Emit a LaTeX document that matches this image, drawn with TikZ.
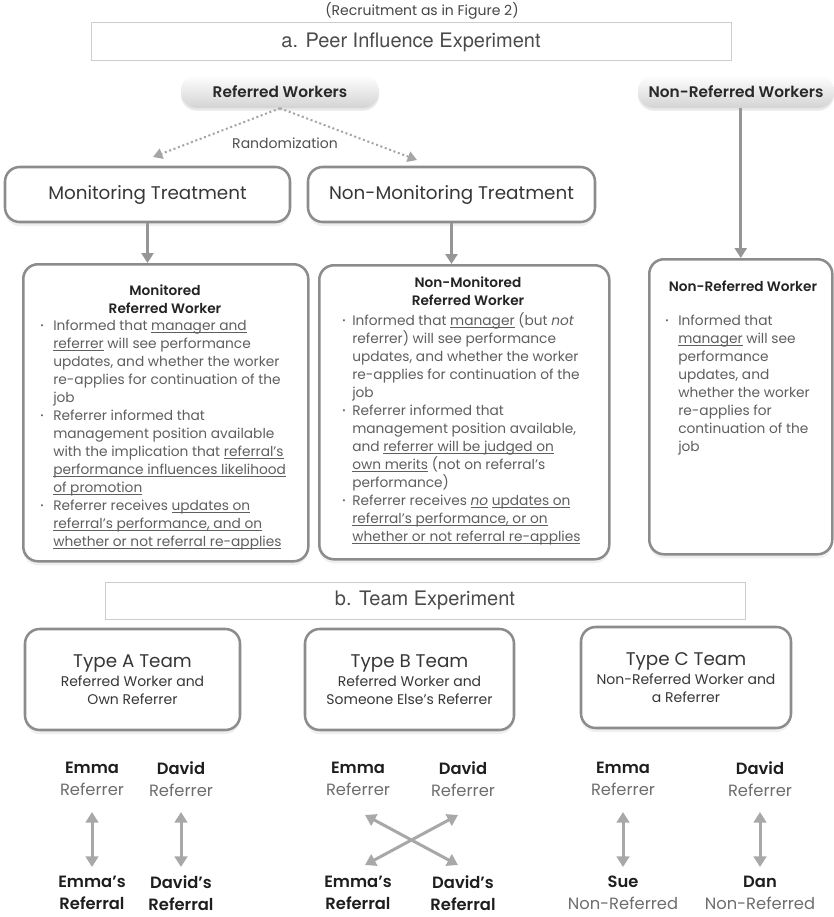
\documentclass[tikz,border=0pt]{standalone}
\usepackage{fontspec}
\setmainfont{Poppins}[BoldFont={Poppins SemiBold}]
\newfontfamily\helv{TeX Gyre Heros}
\usepackage{graphicx}
\usepackage{xcolor}
\usetikzlibrary{arrows.meta,shadows,calc}

\newcommand{\bdy}{\fontsize{10.3}{13.5}\selectfont}
\newcommand{\itm}{\raisebox{0.25ex}{\scalebox{0.6}{\textbullet}}}
\newlength{\ulw}
\newcommand{\undl}[1]{\settowidth{\ulw}{#1}\rlap{\rule[-1.6pt]{\ulw}{0.5pt}}#1}
\newcommand{\nmb}[1]{{\bfseries\color[RGB]{30,30,30}#1}}

\begin{document}
\begin{tikzpicture}[x=0.75pt,y=0.75pt,yscale=-1,xscale=1,
  frm/.style={draw={rgb, 255:red, 205; green, 205; blue, 205}, line width=0.75pt, fill=white,
    minimum width=480pt, minimum height=28.5pt, inner sep=0pt,
    font=\helv\fontsize{15}{18}\selectfont, text={rgb, 255:red, 75; green, 75; blue, 75}},
  pill/.style={rounded corners=12pt, top color=white, bottom color=black!17, minimum height=24.75pt,
    inner sep=0pt, drop shadow={opacity=0.18, shadow xshift=0pt, shadow yshift=-2pt},
    font=\bfseries\fontsize{11.5}{13}\selectfont, text={rgb, 255:red, 40; green, 40; blue, 40}},
  rbox/.style={draw={rgb, 255:red, 140; green, 140; blue, 140}, line width=1.9pt, rounded corners=11pt,
    fill=white, inner sep=0pt, drop shadow={opacity=0.12, shadow xshift=0pt, shadow yshift=-3pt}},
  tbox/.style={rbox, font=\fontsize{13.75}{16}\selectfont, text={rgb, 255:red, 55; green, 55; blue, 55}},
  tybox/.style={rbox, minimum height=75.75pt, align=center, font=\fontsize{10.5}{13.5}\selectfont,
    text={rgb, 255:red, 55; green, 55; blue, 55}},
  ttl/.style={inner sep=0pt, align=center, font=\bfseries\fontsize{10.25}{13.5}\selectfont,
    text={rgb, 255:red, 35; green, 35; blue, 35}},
  bdytxt/.style={inner sep=0pt, font=\bdy, text={rgb, 255:red, 95; green, 95; blue, 95}},
  nm/.style={inner sep=0pt, align=center, font=\fontsize{12.25}{16.5}\selectfont,
    text={rgb, 255:red, 110; green, 110; blue, 110}},
  arr/.style={draw={rgb, 255:red, 150; green, 150; blue, 150}, line width=2.25pt,
    -{Triangle[length=7.5pt,width=9pt]}},
  dblarr/.style={draw={rgb, 255:red, 168; green, 168; blue, 168}, line width=2.25pt,
    {Triangle[length=8pt,width=9.5pt]}-{Triangle[length=8pt,width=9.5pt]}},
  dotarr/.style={draw={rgb, 255:red, 165; green, 165; blue, 165}, line width=1.5pt, dotted,
    -{Triangle[length=7pt,width=8pt]}}
]
\useasboundingbox (0,0) rectangle (834,917);
\fill [white] (0,0) rectangle (834,917);

% Text Node
\node (recru) [inner sep=0pt, font=\fontsize{10.5}{12}\selectfont, text={rgb, 255:red, 70; green, 70; blue, 70}] at (422,11) {(Recruitment as in Figure 2)};
%Shape: Rectangle
\node (expa) [frm] at (411,42) {a. Peer Influence Experiment};

%Rounded Rect
\node (refw) [pill, minimum width=148.5pt] at (280,91.5) {Referred Workers};
\node (nrefw) [pill, minimum width=147pt] at (736,91.5) {Non-Referred Workers};

% Text Node
\node (rand) [inner sep=0pt, font=\fontsize{10.5}{12}\selectfont, text={rgb, 255:red, 80; green, 80; blue, 80}] at (285,143) {Randomization};
\coordinate (rndl) at (153,157);
\coordinate (rndr) at (417,160);
%Straight Lines
\draw [dotarr] (refw.south) -- (rndl);
\draw [dotarr] (refw.south) -- (rndr);

%Rounded Rect
\node (montr) [tbox, minimum width=213.75pt, minimum height=41.25pt] at (147.5,194.5) {Monitoring Treatment};
\node (nmontr) [tbox, minimum width=215.25pt, minimum height=41.25pt] at (451.5,194.5) {Non-Monitoring Treatment};

%Rounded Rect
\node (monw) [rbox, minimum width=213.75pt, minimum height=222.75pt, anchor=north west] at (22,263) {};
\node (nmonw) [rbox, minimum width=217.5pt, minimum height=220.5pt, anchor=north west] at (318,264) {};
\node (nrw) [rbox, minimum width=137.25pt, minimum height=221.25pt, anchor=north west] at (648,258) {};

%Straight Lines
\draw [arr] (montr) -- (montr |- monw.north);
\draw [arr] (nmontr) -- (nmontr |- nmonw.north);
\draw [arr] (nrw.north |- nrefw.south) -- (nrw.north);

% Text Node
\node (monttl) [ttl, anchor=north] at (165,285) {Monitored\\Referred Worker};
\node (montxt) [bdytxt, anchor=north west] at (40,318) {\begin{tabular}{@{}p{9.75pt}@{}l@{}}
\itm & Informed that \undl{manager and}\\
 & \undl{referrer} will see performance\\
 & updates, and whether the worker\\
 & re-applies for continuation of the\\
 & job\\
\itm & Referrer informed that\\
 & management position available\\
 & with the implication that \undl{referral's}\\
 & \undl{performance influences likelihood}\\
 & \undl{of promotion}\\
\itm & Referrer receives \undl{updates on}\\
 & \undl{referral's performance, and on}\\
 & \undl{whether or not referral re-applies}
\end{tabular}};

% Text Node
\node (nmonttl) [ttl, anchor=north] at (468,277) {Non-Monitored\\Referred Worker};
\node (nmontxt) [bdytxt, anchor=north west] at (342,312) {\begin{tabular}{@{}p{7.5pt}@{}l@{}}
\itm & Informed that \undl{manager} (but \emph{not}\\
 & referrer) will see performance\\
 & updates, and whether the worker\\
 & re-applies for continuation of the\\
 & job\\
\itm & Referrer informed that\\
 & management position available,\\
 & and \undl{referrer will be judged on}\\
 & \undl{own merits} (not on referral's\\
 & performance)\\
\itm & Referrer receives \undl{\emph{no}} \undl{updates on}\\
 & \undl{referral's performance, or on}\\
 & \undl{whether or not referral re-applies}
\end{tabular}};

% Text Node
\node (nrttl) [ttl, anchor=north] at (743,281) {Non-Referred Worker};
\node (nrtxt) [bdytxt, anchor=north west] at (665,313) {\begin{tabular}{@{}p{9.75pt}@{}l@{}}
\itm & Informed that\\
 & \undl{manager} will see\\
 & performance\\
 & updates, and\\
 & whether the worker\\
 & re-applies for\\
 & continuation of the\\
 & job
\end{tabular}};

%Shape: Rectangle
\node (expb) [frm, minimum height=27.75pt] at (425,600.5) {b. Team Experiment};

%Rounded Rect
\node (tya) [tybox, minimum width=161.25pt] at (132.5,679.5) {{\fontsize{13.75}{16}\selectfont Type A Team}\\[1pt]Referred Worker and\\Own Referrer};
\node (tyb) [tybox, minimum width=156.75pt] at (409.5,679.5) {{\fontsize{13.75}{16}\selectfont Type B Team}\\[1pt]Referred Worker and\\Someone Else's Referrer};
\node (tyc) [tybox, minimum width=157.5pt] at (686,677.5) {{\fontsize{13.75}{16}\selectfont Type C Team}\\[1pt]Non-Referred Worker and\\a Referrer};

% Text Node
\node (emA) [nm] at (92,779) {\nmb{Emma}\\Referrer};
\node (dvA) [nm] at (181,779) {\nmb{David}\\Referrer};
\node (emAr) [nm] at (92,893) {\nmb{Emma's}\\\nmb{Referral}};
\node (dvAr) [nm] at (181,893) {\nmb{David's}\\\nmb{Referral}};
\node (emB) [nm] at (358,779) {\nmb{Emma}\\Referrer};
\node (dvB) [nm] at (463,779) {\nmb{David}\\Referrer};
\node (emBr) [nm] at (358,893) {\nmb{Emma's}\\\nmb{Referral}};
\node (dvBr) [nm] at (463,893) {\nmb{David's}\\\nmb{Referral}};
\node (emC) [nm] at (623,779) {\nmb{Emma}\\Referrer};
\node (dvC) [nm] at (760,779) {\nmb{David}\\Referrer};
\node (sue) [nm] at (623,893) {\nmb{Sue}\\Non-Referred};
\node (dan) [nm] at (760,893) {\nmb{Dan}\\Non-Referred};

%Straight Lines
\draw [dblarr] ($(emA.center)+(0,33)$) -- ($(emAr.center)+(0,-26)$);
\draw [dblarr] ($(dvA.center)+(0,33)$) -- ($(dvAr.center)+(0,-26)$);
\draw [dblarr] ($(emB.center)+(7,36)$) -- ($(dvBr.center)+(-5,-28)$);
\draw [dblarr] ($(emBr.center)+(7,-28)$) -- ($(dvB.center)+(-5,36)$);
\draw [dblarr] ($(emC.center)+(0,33)$) -- ($(sue.center)+(0,-26)$);
\draw [dblarr] ($(dvC.center)+(0,33)$) -- ($(dan.center)+(0,-26)$);

\end{tikzpicture}
\end{document}
